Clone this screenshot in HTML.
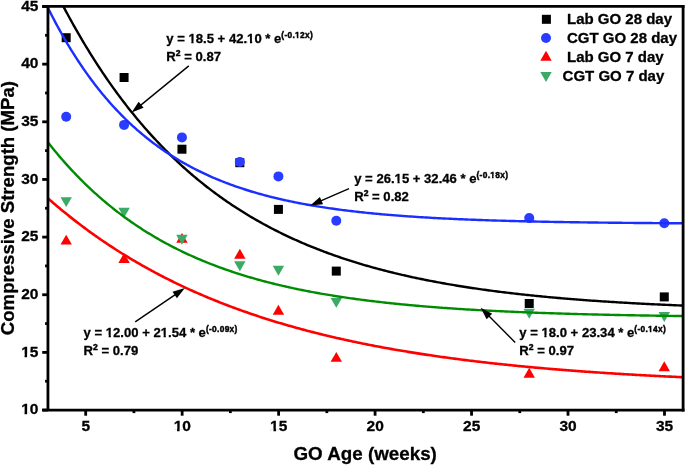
<!DOCTYPE html><html><head><meta charset="utf-8"><style>html,body{margin:0;padding:0;background:#fff;overflow:hidden}svg{display:block}text{font-family:"Liberation Sans",sans-serif;font-weight:bold;stroke:#000;stroke-width:0.3px;filter:grayscale(1)}</style></head><body>
<svg width="685" height="465" viewBox="0 0 685 465">
<defs><clipPath id="pc"><rect x="48" y="6.5" width="634" height="403.5"/></clipPath></defs>
<rect x="61.69" y="33.20" width="9" height="9" fill="#000"/>
<rect x="119.57" y="73.00" width="9" height="9" fill="#000"/>
<rect x="177.45" y="144.70" width="9" height="9" fill="#000"/>
<rect x="235.33" y="158.20" width="9" height="9" fill="#000"/>
<rect x="273.92" y="204.90" width="9" height="9" fill="#000"/>
<rect x="331.79" y="266.60" width="9" height="9" fill="#000"/>
<rect x="524.73" y="299.00" width="9" height="9" fill="#000"/>
<rect x="659.78" y="292.40" width="9" height="9" fill="#000"/>
<circle cx="66.19" cy="116.80" r="5" fill="#2a3cff"/>
<circle cx="124.07" cy="124.90" r="5" fill="#2a3cff"/>
<circle cx="181.95" cy="137.40" r="5" fill="#2a3cff"/>
<circle cx="239.83" cy="162.00" r="5" fill="#2a3cff"/>
<circle cx="278.42" cy="176.40" r="5" fill="#2a3cff"/>
<circle cx="336.29" cy="220.70" r="5" fill="#2a3cff"/>
<circle cx="529.23" cy="218.10" r="5" fill="#2a3cff"/>
<circle cx="664.28" cy="223.20" r="5" fill="#2a3cff"/>
<polygon points="66.19,234.65 71.89,244.55 60.49,244.55" fill="#ff0000"/>
<polygon points="124.07,253.05 129.77,262.95 118.37,262.95" fill="#ff0000"/>
<polygon points="181.95,232.95 187.65,242.85 176.25,242.85" fill="#ff0000"/>
<polygon points="239.83,248.85 245.53,258.75 234.13,258.75" fill="#ff0000"/>
<polygon points="278.42,304.85 284.12,314.75 272.72,314.75" fill="#ff0000"/>
<polygon points="336.29,351.95 341.99,361.85 330.59,361.85" fill="#ff0000"/>
<polygon points="529.23,367.75 534.93,377.65 523.52,377.65" fill="#ff0000"/>
<polygon points="664.28,361.25 669.98,371.15 658.58,371.15" fill="#ff0000"/>
<polygon points="60.49,197.15 71.89,197.15 66.19,207.05" fill="#3aaa66"/>
<polygon points="118.37,207.75 129.77,207.75 124.07,217.65" fill="#3aaa66"/>
<polygon points="176.25,234.85 187.65,234.85 181.95,244.75" fill="#3aaa66"/>
<polygon points="234.13,261.25 245.53,261.25 239.83,271.15" fill="#3aaa66"/>
<polygon points="272.72,265.85 284.12,265.85 278.42,275.75" fill="#3aaa66"/>
<polygon points="330.59,297.95 341.99,297.95 336.29,307.85" fill="#3aaa66"/>
<polygon points="523.52,308.75 534.93,308.75 529.23,318.65" fill="#3aaa66"/>
<polygon points="658.58,312.05 669.98,312.05 664.28,321.95" fill="#3aaa66"/>
<polyline points="46.90,-26.62 48.49,-23.28 50.08,-19.98 51.68,-16.71 53.27,-13.47 54.86,-10.26 56.45,-7.09 58.04,-3.94 59.63,-0.83 61.23,2.25 62.82,5.31 64.41,8.33 66.00,11.32 67.59,14.28 69.18,17.21 70.78,20.12 72.37,22.99 73.96,25.84 75.55,28.66 77.14,31.45 78.73,34.22 80.33,36.95 81.92,39.66 83.51,42.35 85.10,45.00 86.69,47.64 88.28,50.24 89.88,52.82 91.47,55.37 93.06,57.90 94.65,60.40 96.24,62.88 97.83,65.34 99.43,67.77 101.02,70.18 102.61,72.56 104.20,74.92 105.79,77.25 107.38,79.57 108.98,81.86 110.57,84.12 112.16,86.37 113.75,88.59 115.34,90.79 116.93,92.97 118.53,95.13 120.12,97.27 121.71,99.38 123.30,101.48 124.89,103.55 126.48,105.61 128.08,107.64 129.67,109.65 131.26,111.65 132.85,113.62 134.44,115.58 136.03,117.51 137.63,119.43 139.22,121.33 140.81,123.21 142.40,125.07 143.99,126.91 145.58,128.73 147.18,130.54 148.77,132.33 150.36,134.10 151.95,135.85 153.54,137.58 155.13,139.30 156.73,141.00 158.32,142.69 159.91,144.36 161.50,146.01 163.09,147.65 164.68,149.26 166.28,150.87 167.87,152.46 169.46,154.03 171.05,155.59 172.64,157.13 174.23,158.65 175.83,160.16 177.42,161.66 179.01,163.14 180.60,164.61 182.19,166.06 183.78,167.50 185.38,168.92 186.97,170.33 188.56,171.73 190.15,173.11 191.74,174.48 193.33,175.83 194.93,177.18 196.52,178.51 198.11,179.82 199.70,181.12 201.29,182.41 202.88,183.69 204.48,184.95 206.07,186.21 207.66,187.45 209.25,188.67 210.84,189.89 212.43,191.09 214.03,192.28 215.62,193.46 217.21,194.63 218.80,195.79 220.39,196.93 221.98,198.07 223.58,199.19 225.17,200.30 226.76,201.40 228.35,202.49 229.94,203.57 231.53,204.64 233.13,205.70 234.72,206.75 236.31,207.78 237.90,208.81 239.49,209.83 241.08,210.83 242.68,211.83 244.27,212.82 245.86,213.80 247.45,214.76 249.04,215.72 250.63,216.67 252.23,217.61 253.82,218.54 255.41,219.46 257.00,220.37 258.59,221.28 260.18,222.17 261.78,223.06 263.37,223.93 264.96,224.80 266.55,225.66 268.14,226.51 269.73,227.35 271.33,228.19 272.92,229.02 274.51,229.83 276.10,230.64 277.69,231.44 279.28,232.24 280.88,233.03 282.47,233.80 284.06,234.57 285.65,235.34 287.24,236.09 288.83,236.84 290.43,237.58 292.02,238.32 293.61,239.04 295.20,239.76 296.79,240.47 298.38,241.18 299.98,241.88 301.57,242.57 303.16,243.25 304.75,243.93 306.34,244.60 307.93,245.27 309.53,245.92 311.12,246.57 312.71,247.22 314.30,247.86 315.89,248.49 317.48,249.12 319.08,249.74 320.67,250.35 322.26,250.96 323.85,251.56 325.44,252.16 327.03,252.75 328.63,253.33 330.22,253.91 331.81,254.48 333.40,255.05 334.99,255.61 336.58,256.17 338.18,256.72 339.77,257.26 341.36,257.80 342.95,258.33 344.54,258.86 346.13,259.39 347.73,259.91 349.32,260.42 350.91,260.93 352.50,261.43 354.09,261.93 355.68,262.42 357.28,262.91 358.87,263.40 360.46,263.88 362.05,264.35 363.64,264.82 365.23,265.29 366.83,265.75 368.42,266.20 370.01,266.65 371.60,267.10 373.19,267.54 374.78,267.98 376.38,268.42 377.97,268.85 379.56,269.27 381.15,269.69 382.74,270.11 384.33,270.52 385.93,270.93 387.52,271.34 389.11,271.74 390.70,272.14 392.29,272.53 393.88,272.92 395.48,273.30 397.07,273.69 398.66,274.06 400.25,274.44 401.84,274.81 403.43,275.17 405.03,275.54 406.62,275.90 408.21,276.25 409.80,276.61 411.39,276.96 412.98,277.30 414.58,277.64 416.17,277.98 417.76,278.32 419.35,278.65 420.94,278.98 422.53,279.30 424.13,279.63 425.72,279.95 427.31,280.26 428.90,280.58 430.49,280.89 432.08,281.19 433.68,281.50 435.27,281.80 436.86,282.10 438.45,282.39 440.04,282.68 441.63,282.97 443.23,283.26 444.82,283.54 446.41,283.82 448.00,284.10 449.59,284.38 451.18,284.65 452.78,284.92 454.37,285.19 455.96,285.45 457.55,285.71 459.14,285.97 460.73,286.23 462.33,286.48 463.92,286.73 465.51,286.98 467.10,287.23 468.69,287.48 470.28,287.72 471.88,287.96 473.47,288.19 475.06,288.43 476.65,288.66 478.24,288.89 479.83,289.12 481.43,289.35 483.02,289.57 484.61,289.79 486.20,290.01 487.79,290.23 489.38,290.44 490.98,290.66 492.57,290.87 494.16,291.07 495.75,291.28 497.34,291.49 498.93,291.69 500.53,291.89 502.12,292.09 503.71,292.28 505.30,292.48 506.89,292.67 508.49,292.86 510.08,293.05 511.67,293.24 513.26,293.42 514.85,293.61 516.44,293.79 518.04,293.97 519.63,294.15 521.22,294.32 522.81,294.50 524.40,294.67 525.99,294.84 527.59,295.01 529.18,295.18 530.77,295.35 532.36,295.51 533.95,295.67 535.54,295.83 537.14,295.99 538.73,296.15 540.32,296.31 541.91,296.46 543.50,296.62 545.09,296.77 546.69,296.92 548.28,297.07 549.87,297.22 551.46,297.36 553.05,297.51 554.64,297.65 556.24,297.79 557.83,297.93 559.42,298.07 561.01,298.21 562.60,298.34 564.19,298.48 565.79,298.61 567.38,298.75 568.97,298.88 570.56,299.01 572.15,299.14 573.74,299.26 575.34,299.39 576.93,299.51 578.52,299.64 580.11,299.76 581.70,299.88 583.29,300.00 584.89,300.12 586.48,300.24 588.07,300.35 589.66,300.47 591.25,300.58 592.84,300.69 594.44,300.81 596.03,300.92 597.62,301.03 599.21,301.13 600.80,301.24 602.39,301.35 603.99,301.45 605.58,301.56 607.17,301.66 608.76,301.76 610.35,301.87 611.94,301.97 613.54,302.06 615.13,302.16 616.72,302.26 618.31,302.36 619.90,302.45 621.49,302.55 623.09,302.64 624.68,302.73 626.27,302.82 627.86,302.92 629.45,303.01 631.04,303.09 632.64,303.18 634.23,303.27 635.82,303.36 637.41,303.44 639.00,303.53 640.59,303.61 642.19,303.69 643.78,303.78 645.37,303.86 646.96,303.94 648.55,304.02 650.14,304.10 651.74,304.18 653.33,304.25 654.92,304.33 656.51,304.41 658.10,304.48 659.69,304.56 661.29,304.63 662.88,304.70 664.47,304.77 666.06,304.85 667.65,304.92 669.24,304.99 670.84,305.06 672.43,305.13 674.02,305.19 675.61,305.26 677.20,305.33 678.79,305.39 680.39,305.46 681.98,305.52 683.57,305.59" fill="none" stroke="#000000" stroke-width="2.4" clip-path="url(#pc)"/>
<polyline points="46.90,5.74 48.49,8.95 50.08,12.12 51.68,15.24 53.27,18.32 54.86,21.35 56.45,24.33 58.04,27.27 59.63,30.17 61.23,33.02 62.82,35.84 64.41,38.61 66.00,41.34 67.59,44.03 69.18,46.68 70.78,49.29 72.37,51.86 73.96,54.40 75.55,56.90 77.14,59.36 78.73,61.78 80.33,64.17 81.92,66.52 83.51,68.84 85.10,71.13 86.69,73.38 88.28,75.60 89.88,77.78 91.47,79.93 93.06,82.06 94.65,84.15 96.24,86.20 97.83,88.23 99.43,90.23 101.02,92.20 102.61,94.14 104.20,96.05 105.79,97.94 107.38,99.79 108.98,101.62 110.57,103.42 112.16,105.20 113.75,106.95 115.34,108.67 116.93,110.37 118.53,112.04 120.12,113.69 121.71,115.31 123.30,116.91 124.89,118.49 126.48,120.04 128.08,121.57 129.67,123.08 131.26,124.56 132.85,126.03 134.44,127.47 136.03,128.89 137.63,130.29 139.22,131.67 140.81,133.03 142.40,134.37 143.99,135.68 145.58,136.98 147.18,138.26 148.77,139.53 150.36,140.77 151.95,141.99 153.54,143.20 155.13,144.39 156.73,145.56 158.32,146.71 159.91,147.85 161.50,148.97 163.09,150.07 164.68,151.16 166.28,152.23 167.87,153.29 169.46,154.33 171.05,155.35 172.64,156.36 174.23,157.36 175.83,158.34 177.42,159.30 179.01,160.25 180.60,161.19 182.19,162.11 183.78,163.02 185.38,163.92 186.97,164.80 188.56,165.67 190.15,166.53 191.74,167.38 193.33,168.21 194.93,169.03 196.52,169.84 198.11,170.63 199.70,171.42 201.29,172.19 202.88,172.95 204.48,173.70 206.07,174.44 207.66,175.17 209.25,175.89 210.84,176.59 212.43,177.29 214.03,177.98 215.62,178.65 217.21,179.32 218.80,179.97 220.39,180.62 221.98,181.26 223.58,181.88 225.17,182.50 226.76,183.11 228.35,183.71 229.94,184.30 231.53,184.89 233.13,185.46 234.72,186.03 236.31,186.58 237.90,187.13 239.49,187.67 241.08,188.21 242.68,188.73 244.27,189.25 245.86,189.76 247.45,190.26 249.04,190.76 250.63,191.25 252.23,191.73 253.82,192.20 255.41,192.67 257.00,193.13 258.59,193.58 260.18,194.02 261.78,194.46 263.37,194.90 264.96,195.32 266.55,195.74 268.14,196.16 269.73,196.57 271.33,196.97 272.92,197.36 274.51,197.75 276.10,198.14 277.69,198.52 279.28,198.89 280.88,199.26 282.47,199.62 284.06,199.98 285.65,200.33 287.24,200.68 288.83,201.02 290.43,201.35 292.02,201.69 293.61,202.01 295.20,202.33 296.79,202.65 298.38,202.96 299.98,203.27 301.57,203.57 303.16,203.87 304.75,204.17 306.34,204.46 307.93,204.74 309.53,205.02 311.12,205.30 312.71,205.58 314.30,205.84 315.89,206.11 317.48,206.37 319.08,206.63 320.67,206.88 322.26,207.13 323.85,207.38 325.44,207.62 327.03,207.86 328.63,208.10 330.22,208.33 331.81,208.56 333.40,208.78 334.99,209.00 336.58,209.22 338.18,209.44 339.77,209.65 341.36,209.86 342.95,210.07 344.54,210.27 346.13,210.47 347.73,210.67 349.32,210.86 350.91,211.05 352.50,211.24 354.09,211.43 355.68,211.61 357.28,211.79 358.87,211.97 360.46,212.14 362.05,212.31 363.64,212.48 365.23,212.65 366.83,212.82 368.42,212.98 370.01,213.14 371.60,213.30 373.19,213.45 374.78,213.61 376.38,213.76 377.97,213.90 379.56,214.05 381.15,214.20 382.74,214.34 384.33,214.48 385.93,214.62 387.52,214.75 389.11,214.89 390.70,215.02 392.29,215.15 393.88,215.28 395.48,215.40 397.07,215.53 398.66,215.65 400.25,215.77 401.84,215.89 403.43,216.01 405.03,216.12 406.62,216.24 408.21,216.35 409.80,216.46 411.39,216.57 412.98,216.67 414.58,216.78 416.17,216.88 417.76,216.99 419.35,217.09 420.94,217.19 422.53,217.28 424.13,217.38 425.72,217.48 427.31,217.57 428.90,217.66 430.49,217.75 432.08,217.84 433.68,217.93 435.27,218.02 436.86,218.10 438.45,218.19 440.04,218.27 441.63,218.35 443.23,218.44 444.82,218.52 446.41,218.59 448.00,218.67 449.59,218.75 451.18,218.82 452.78,218.90 454.37,218.97 455.96,219.04 457.55,219.11 459.14,219.18 460.73,219.25 462.33,219.32 463.92,219.38 465.51,219.45 467.10,219.51 468.69,219.58 470.28,219.64 471.88,219.70 473.47,219.76 475.06,219.82 476.65,219.88 478.24,219.94 479.83,220.00 481.43,220.06 483.02,220.11 484.61,220.17 486.20,220.22 487.79,220.27 489.38,220.33 490.98,220.38 492.57,220.43 494.16,220.48 495.75,220.53 497.34,220.58 498.93,220.63 500.53,220.67 502.12,220.72 503.71,220.77 505.30,220.81 506.89,220.86 508.49,220.90 510.08,220.94 511.67,220.99 513.26,221.03 514.85,221.07 516.44,221.11 518.04,221.15 519.63,221.19 521.22,221.23 522.81,221.27 524.40,221.31 525.99,221.34 527.59,221.38 529.18,221.42 530.77,221.45 532.36,221.49 533.95,221.52 535.54,221.56 537.14,221.59 538.73,221.62 540.32,221.66 541.91,221.69 543.50,221.72 545.09,221.75 546.69,221.78 548.28,221.81 549.87,221.84 551.46,221.87 553.05,221.90 554.64,221.93 556.24,221.96 557.83,221.99 559.42,222.01 561.01,222.04 562.60,222.07 564.19,222.09 565.79,222.12 567.38,222.14 568.97,222.17 570.56,222.19 572.15,222.22 573.74,222.24 575.34,222.26 576.93,222.29 578.52,222.31 580.11,222.33 581.70,222.36 583.29,222.38 584.89,222.40 586.48,222.42 588.07,222.44 589.66,222.46 591.25,222.48 592.84,222.50 594.44,222.52 596.03,222.54 597.62,222.56 599.21,222.58 600.80,222.60 602.39,222.62 603.99,222.63 605.58,222.65 607.17,222.67 608.76,222.69 610.35,222.70 611.94,222.72 613.54,222.74 615.13,222.75 616.72,222.77 618.31,222.79 619.90,222.80 621.49,222.82 623.09,222.83 624.68,222.85 626.27,222.86 627.86,222.88 629.45,222.89 631.04,222.90 632.64,222.92 634.23,222.93 635.82,222.94 637.41,222.96 639.00,222.97 640.59,222.98 642.19,223.00 643.78,223.01 645.37,223.02 646.96,223.03 648.55,223.04 650.14,223.06 651.74,223.07 653.33,223.08 654.92,223.09 656.51,223.10 658.10,223.11 659.69,223.12 661.29,223.13 662.88,223.14 664.47,223.15 666.06,223.16 667.65,223.17 669.24,223.18 670.84,223.19 672.43,223.20 674.02,223.21 675.61,223.22 677.20,223.23 678.79,223.24 680.39,223.25 681.98,223.26 683.57,223.27" fill="none" stroke="#1a2eff" stroke-width="2.4" clip-path="url(#pc)"/>
<polyline points="46.90,197.40 48.49,198.80 50.08,200.19 51.68,201.58 53.27,202.95 54.86,204.31 56.45,205.66 58.04,207.00 59.63,208.33 61.23,209.66 62.82,210.97 64.41,212.27 66.00,213.56 67.59,214.84 69.18,216.12 70.78,217.38 72.37,218.64 73.96,219.88 75.55,221.12 77.14,222.35 78.73,223.56 80.33,224.77 81.92,225.97 83.51,227.16 85.10,228.35 86.69,229.52 88.28,230.68 89.88,231.84 91.47,232.99 93.06,234.13 94.65,235.26 96.24,236.38 97.83,237.49 99.43,238.60 101.02,239.70 102.61,240.79 104.20,241.87 105.79,242.94 107.38,244.01 108.98,245.07 110.57,246.12 112.16,247.16 113.75,248.19 115.34,249.22 116.93,250.24 118.53,251.25 120.12,252.25 121.71,253.25 123.30,254.24 124.89,255.22 126.48,256.20 128.08,257.16 129.67,258.13 131.26,259.08 132.85,260.02 134.44,260.96 136.03,261.90 137.63,262.82 139.22,263.74 140.81,264.65 142.40,265.56 143.99,266.46 145.58,267.35 147.18,268.23 148.77,269.11 150.36,269.98 151.95,270.85 153.54,271.71 155.13,272.56 156.73,273.41 158.32,274.25 159.91,275.08 161.50,275.91 163.09,276.73 164.68,277.55 166.28,278.36 167.87,279.16 169.46,279.96 171.05,280.75 172.64,281.53 174.23,282.31 175.83,283.09 177.42,283.86 179.01,284.62 180.60,285.38 182.19,286.13 183.78,286.88 185.38,287.62 186.97,288.35 188.56,289.08 190.15,289.81 191.74,290.52 193.33,291.24 194.93,291.95 196.52,292.65 198.11,293.35 199.70,294.04 201.29,294.73 202.88,295.41 204.48,296.09 206.07,296.76 207.66,297.43 209.25,298.09 210.84,298.75 212.43,299.40 214.03,300.05 215.62,300.69 217.21,301.33 218.80,301.96 220.39,302.59 221.98,303.22 223.58,303.84 225.17,304.45 226.76,305.06 228.35,305.67 229.94,306.27 231.53,306.87 233.13,307.46 234.72,308.05 236.31,308.63 237.90,309.21 239.49,309.79 241.08,310.36 242.68,310.92 244.27,311.49 245.86,312.05 247.45,312.60 249.04,313.15 250.63,313.70 252.23,314.24 253.82,314.78 255.41,315.31 257.00,315.84 258.59,316.37 260.18,316.89 261.78,317.41 263.37,317.92 264.96,318.43 266.55,318.94 268.14,319.45 269.73,319.95 271.33,320.44 272.92,320.93 274.51,321.42 276.10,321.91 277.69,322.39 279.28,322.87 280.88,323.34 282.47,323.81 284.06,324.28 285.65,324.74 287.24,325.20 288.83,325.66 290.43,326.11 292.02,326.56 293.61,327.01 295.20,327.46 296.79,327.90 298.38,328.33 299.98,328.77 301.57,329.20 303.16,329.62 304.75,330.05 306.34,330.47 307.93,330.89 309.53,331.30 311.12,331.72 312.71,332.12 314.30,332.53 315.89,332.93 317.48,333.33 319.08,333.73 320.67,334.12 322.26,334.51 323.85,334.90 325.44,335.29 327.03,335.67 328.63,336.05 330.22,336.43 331.81,336.80 333.40,337.17 334.99,337.54 336.58,337.91 338.18,338.27 339.77,338.63 341.36,338.99 342.95,339.34 344.54,339.70 346.13,340.05 347.73,340.39 349.32,340.74 350.91,341.08 352.50,341.42 354.09,341.76 355.68,342.09 357.28,342.42 358.87,342.75 360.46,343.08 362.05,343.40 363.64,343.73 365.23,344.05 366.83,344.37 368.42,344.68 370.01,344.99 371.60,345.30 373.19,345.61 374.78,345.92 376.38,346.22 377.97,346.52 379.56,346.82 381.15,347.12 382.74,347.42 384.33,347.71 385.93,348.00 387.52,348.29 389.11,348.57 390.70,348.86 392.29,349.14 393.88,349.42 395.48,349.70 397.07,349.97 398.66,350.25 400.25,350.52 401.84,350.79 403.43,351.06 405.03,351.32 406.62,351.59 408.21,351.85 409.80,352.11 411.39,352.37 412.98,352.62 414.58,352.88 416.17,353.13 417.76,353.38 419.35,353.63 420.94,353.87 422.53,354.12 424.13,354.36 425.72,354.60 427.31,354.84 428.90,355.08 430.49,355.32 432.08,355.55 433.68,355.78 435.27,356.02 436.86,356.24 438.45,356.47 440.04,356.70 441.63,356.92 443.23,357.14 444.82,357.37 446.41,357.58 448.00,357.80 449.59,358.02 451.18,358.23 452.78,358.44 454.37,358.66 455.96,358.87 457.55,359.07 459.14,359.28 460.73,359.49 462.33,359.69 463.92,359.89 465.51,360.09 467.10,360.29 468.69,360.49 470.28,360.68 471.88,360.88 473.47,361.07 475.06,361.26 476.65,361.45 478.24,361.64 479.83,361.83 481.43,362.02 483.02,362.20 484.61,362.38 486.20,362.57 487.79,362.75 489.38,362.93 490.98,363.10 492.57,363.28 494.16,363.46 495.75,363.63 497.34,363.80 498.93,363.97 500.53,364.14 502.12,364.31 503.71,364.48 505.30,364.65 506.89,364.81 508.49,364.98 510.08,365.14 511.67,365.30 513.26,365.46 514.85,365.62 516.44,365.78 518.04,365.94 519.63,366.09 521.22,366.25 522.81,366.40 524.40,366.55 525.99,366.70 527.59,366.85 529.18,367.00 530.77,367.15 532.36,367.30 533.95,367.44 535.54,367.59 537.14,367.73 538.73,367.87 540.32,368.02 541.91,368.16 543.50,368.29 545.09,368.43 546.69,368.57 548.28,368.71 549.87,368.84 551.46,368.98 553.05,369.11 554.64,369.24 556.24,369.37 557.83,369.50 559.42,369.63 561.01,369.76 562.60,369.89 564.19,370.02 565.79,370.14 567.38,370.27 568.97,370.39 570.56,370.51 572.15,370.63 573.74,370.75 575.34,370.87 576.93,370.99 578.52,371.11 580.11,371.23 581.70,371.35 583.29,371.46 584.89,371.58 586.48,371.69 588.07,371.80 589.66,371.92 591.25,372.03 592.84,372.14 594.44,372.25 596.03,372.36 597.62,372.47 599.21,372.57 600.80,372.68 602.39,372.79 603.99,372.89 605.58,373.00 607.17,373.10 608.76,373.20 610.35,373.30 611.94,373.40 613.54,373.51 615.13,373.60 616.72,373.70 618.31,373.80 619.90,373.90 621.49,374.00 623.09,374.09 624.68,374.19 626.27,374.28 627.86,374.38 629.45,374.47 631.04,374.56 632.64,374.65 634.23,374.75 635.82,374.84 637.41,374.93 639.00,375.02 640.59,375.10 642.19,375.19 643.78,375.28 645.37,375.37 646.96,375.45 648.55,375.54 650.14,375.62 651.74,375.71 653.33,375.79 654.92,375.87 656.51,375.95 658.10,376.04 659.69,376.12 661.29,376.20 662.88,376.28 664.47,376.36 666.06,376.44 667.65,376.51 669.24,376.59 670.84,376.67 672.43,376.74 674.02,376.82 675.61,376.90 677.20,376.97 678.79,377.04 680.39,377.12 681.98,377.19 683.57,377.26" fill="none" stroke="#ff0000" stroke-width="2.6" clip-path="url(#pc)"/>
<polyline points="46.90,140.99 48.49,143.02 50.08,145.03 51.68,147.01 53.27,148.98 54.86,150.91 56.45,152.83 58.04,154.73 59.63,156.60 61.23,158.45 62.82,160.28 64.41,162.09 66.00,163.88 67.59,165.64 69.18,167.39 70.78,169.12 72.37,170.83 73.96,172.51 75.55,174.18 77.14,175.83 78.73,177.46 80.33,179.07 81.92,180.67 83.51,182.24 85.10,183.80 86.69,185.34 88.28,186.86 89.88,188.36 91.47,189.85 93.06,191.32 94.65,192.77 96.24,194.21 97.83,195.63 99.43,197.03 101.02,198.42 102.61,199.79 104.20,201.14 105.79,202.48 107.38,203.81 108.98,205.12 110.57,206.41 112.16,207.69 113.75,208.95 115.34,210.20 116.93,211.44 118.53,212.66 120.12,213.87 121.71,215.06 123.30,216.24 124.89,217.41 126.48,218.56 128.08,219.70 129.67,220.83 131.26,221.94 132.85,223.04 134.44,224.13 136.03,225.21 137.63,226.27 139.22,227.32 140.81,228.36 142.40,229.39 143.99,230.40 145.58,231.41 147.18,232.40 148.77,233.38 150.36,234.35 151.95,235.31 153.54,236.26 155.13,237.19 156.73,238.12 158.32,239.03 159.91,239.94 161.50,240.83 163.09,241.72 164.68,242.59 166.28,243.45 167.87,244.31 169.46,245.15 171.05,245.99 172.64,246.81 174.23,247.63 175.83,248.43 177.42,249.23 179.01,250.02 180.60,250.79 182.19,251.56 183.78,252.33 185.38,253.08 186.97,253.82 188.56,254.56 190.15,255.28 191.74,256.00 193.33,256.71 194.93,257.41 196.52,258.10 198.11,258.79 199.70,259.47 201.29,260.14 202.88,260.80 204.48,261.46 206.07,262.10 207.66,262.74 209.25,263.37 210.84,264.00 212.43,264.62 214.03,265.23 215.62,265.83 217.21,266.43 218.80,267.02 220.39,267.60 221.98,268.18 223.58,268.75 225.17,269.31 226.76,269.87 228.35,270.42 229.94,270.96 231.53,271.50 233.13,272.03 234.72,272.56 236.31,273.08 237.90,273.59 239.49,274.10 241.08,274.60 242.68,275.10 244.27,275.59 245.86,276.07 247.45,276.55 249.04,277.03 250.63,277.50 252.23,277.96 253.82,278.42 255.41,278.87 257.00,279.32 258.59,279.76 260.18,280.19 261.78,280.63 263.37,281.05 264.96,281.48 266.55,281.89 268.14,282.31 269.73,282.71 271.33,283.12 272.92,283.51 274.51,283.91 276.10,284.30 277.69,284.68 279.28,285.06 280.88,285.44 282.47,285.81 284.06,286.18 285.65,286.54 287.24,286.90 288.83,287.26 290.43,287.61 292.02,287.95 293.61,288.30 295.20,288.63 296.79,288.97 298.38,289.30 299.98,289.63 301.57,289.95 303.16,290.27 304.75,290.59 306.34,290.90 307.93,291.21 309.53,291.52 311.12,291.82 312.71,292.12 314.30,292.41 315.89,292.70 317.48,292.99 319.08,293.28 320.67,293.56 322.26,293.84 323.85,294.11 325.44,294.38 327.03,294.65 328.63,294.92 330.22,295.18 331.81,295.44 333.40,295.70 334.99,295.95 336.58,296.20 338.18,296.45 339.77,296.70 341.36,296.94 342.95,297.18 344.54,297.42 346.13,297.65 347.73,297.88 349.32,298.11 350.91,298.34 352.50,298.56 354.09,298.78 355.68,299.00 357.28,299.22 358.87,299.43 360.46,299.64 362.05,299.85 363.64,300.05 365.23,300.26 366.83,300.46 368.42,300.66 370.01,300.86 371.60,301.05 373.19,301.24 374.78,301.43 376.38,301.62 377.97,301.81 379.56,301.99 381.15,302.17 382.74,302.35 384.33,302.53 385.93,302.71 387.52,302.88 389.11,303.05 390.70,303.22 392.29,303.39 393.88,303.55 395.48,303.72 397.07,303.88 398.66,304.04 400.25,304.20 401.84,304.35 403.43,304.51 405.03,304.66 406.62,304.81 408.21,304.96 409.80,305.11 411.39,305.25 412.98,305.40 414.58,305.54 416.17,305.68 417.76,305.82 419.35,305.96 420.94,306.09 422.53,306.23 424.13,306.36 425.72,306.49 427.31,306.62 428.90,306.75 430.49,306.88 432.08,307.00 433.68,307.13 435.27,307.25 436.86,307.37 438.45,307.49 440.04,307.61 441.63,307.73 443.23,307.84 444.82,307.96 446.41,308.07 448.00,308.18 449.59,308.29 451.18,308.40 452.78,308.51 454.37,308.62 455.96,308.72 457.55,308.83 459.14,308.93 460.73,309.03 462.33,309.13 463.92,309.23 465.51,309.33 467.10,309.43 468.69,309.53 470.28,309.62 471.88,309.71 473.47,309.81 475.06,309.90 476.65,309.99 478.24,310.08 479.83,310.17 481.43,310.26 483.02,310.34 484.61,310.43 486.20,310.51 487.79,310.60 489.38,310.68 490.98,310.76 492.57,310.84 494.16,310.92 495.75,311.00 497.34,311.08 498.93,311.16 500.53,311.23 502.12,311.31 503.71,311.38 505.30,311.46 506.89,311.53 508.49,311.60 510.08,311.67 511.67,311.75 513.26,311.81 514.85,311.88 516.44,311.95 518.04,312.02 519.63,312.09 521.22,312.15 522.81,312.22 524.40,312.28 525.99,312.34 527.59,312.41 529.18,312.47 530.77,312.53 532.36,312.59 533.95,312.65 535.54,312.71 537.14,312.77 538.73,312.83 540.32,312.88 541.91,312.94 543.50,313.00 545.09,313.05 546.69,313.11 548.28,313.16 549.87,313.21 551.46,313.27 553.05,313.32 554.64,313.37 556.24,313.42 557.83,313.47 559.42,313.52 561.01,313.57 562.60,313.62 564.19,313.67 565.79,313.71 567.38,313.76 568.97,313.81 570.56,313.85 572.15,313.90 573.74,313.94 575.34,313.99 576.93,314.03 578.52,314.08 580.11,314.12 581.70,314.16 583.29,314.20 584.89,314.24 586.48,314.29 588.07,314.33 589.66,314.37 591.25,314.41 592.84,314.44 594.44,314.48 596.03,314.52 597.62,314.56 599.21,314.60 600.80,314.63 602.39,314.67 603.99,314.71 605.58,314.74 607.17,314.78 608.76,314.81 610.35,314.85 611.94,314.88 613.54,314.91 615.13,314.95 616.72,314.98 618.31,315.01 619.90,315.04 621.49,315.08 623.09,315.11 624.68,315.14 626.27,315.17 627.86,315.20 629.45,315.23 631.04,315.26 632.64,315.29 634.23,315.32 635.82,315.35 637.41,315.37 639.00,315.40 640.59,315.43 642.19,315.46 643.78,315.48 645.37,315.51 646.96,315.54 648.55,315.56 650.14,315.59 651.74,315.62 653.33,315.64 654.92,315.67 656.51,315.69 658.10,315.71 659.69,315.74 661.29,315.76 662.88,315.79 664.47,315.81 666.06,315.83 667.65,315.85 669.24,315.88 670.84,315.90 672.43,315.92 674.02,315.94 675.61,315.96 677.20,315.99 678.79,316.01 680.39,316.03 681.98,316.05 683.57,316.07" fill="none" stroke="#008c00" stroke-width="2.4" clip-path="url(#pc)"/>
<g stroke="#000" stroke-width="2.8" fill="none" stroke-linecap="butt">
<line x1="42.2" y1="6.45" x2="684.5" y2="6.45"/>
<line x1="47.95" y1="5.050000000000001" x2="47.95" y2="410.05"/>
<line x1="42.2" y1="410.05" x2="684.5" y2="410.05"/>
<line x1="683.1" y1="5.050000000000001" x2="683.1" y2="411.45"/>
<line x1="42.2" y1="410.05" x2="47.95" y2="410.05"/>
<line x1="42.2" y1="352.40" x2="47.95" y2="352.40"/>
<line x1="42.2" y1="294.75" x2="47.95" y2="294.75"/>
<line x1="42.2" y1="237.10" x2="47.95" y2="237.10"/>
<line x1="42.2" y1="179.45" x2="47.95" y2="179.45"/>
<line x1="42.2" y1="121.80" x2="47.95" y2="121.80"/>
<line x1="42.2" y1="64.15" x2="47.95" y2="64.15"/>
<line x1="42.2" y1="6.50" x2="47.95" y2="6.50"/>
<line x1="45.1" y1="381.22" x2="47.95" y2="381.22"/>
<line x1="45.1" y1="323.57" x2="47.95" y2="323.57"/>
<line x1="45.1" y1="265.93" x2="47.95" y2="265.93"/>
<line x1="45.1" y1="208.27" x2="47.95" y2="208.27"/>
<line x1="45.1" y1="150.62" x2="47.95" y2="150.62"/>
<line x1="45.1" y1="92.97" x2="47.95" y2="92.97"/>
<line x1="45.1" y1="35.33" x2="47.95" y2="35.33"/>
<line x1="85.69" y1="410.05" x2="85.69" y2="415.7"/>
<line x1="182.15" y1="410.05" x2="182.15" y2="415.7"/>
<line x1="278.62" y1="410.05" x2="278.62" y2="415.7"/>
<line x1="375.08" y1="410.05" x2="375.08" y2="415.7"/>
<line x1="471.55" y1="410.05" x2="471.55" y2="415.7"/>
<line x1="568.01" y1="410.05" x2="568.01" y2="415.7"/>
<line x1="664.48" y1="410.05" x2="664.48" y2="415.7"/>
<line x1="133.92" y1="410.05" x2="133.92" y2="413.1"/>
<line x1="230.38" y1="410.05" x2="230.38" y2="413.1"/>
<line x1="326.85" y1="410.05" x2="326.85" y2="413.1"/>
<line x1="423.31" y1="410.05" x2="423.31" y2="413.1"/>
<line x1="519.78" y1="410.05" x2="519.78" y2="413.1"/>
<line x1="616.24" y1="410.05" x2="616.24" y2="413.1"/>
</g>
<text x="38.4" y="414.25" font-size="15.5" text-anchor="end">10</text>
<text x="38.4" y="356.60" font-size="15.5" text-anchor="end">15</text>
<text x="38.4" y="298.95" font-size="15.5" text-anchor="end">20</text>
<text x="38.4" y="241.30" font-size="15.5" text-anchor="end">25</text>
<text x="38.4" y="183.65" font-size="15.5" text-anchor="end">30</text>
<text x="38.4" y="126.00" font-size="15.5" text-anchor="end">35</text>
<text x="38.4" y="68.35" font-size="15.5" text-anchor="end">40</text>
<text x="38.4" y="10.70" font-size="15.5" text-anchor="end">45</text>
<text x="85.79" y="431.3" font-size="15.5" text-anchor="middle">5</text>
<text x="182.25" y="431.3" font-size="15.5" text-anchor="middle">10</text>
<text x="278.72" y="431.3" font-size="15.5" text-anchor="middle">15</text>
<text x="375.18" y="431.3" font-size="15.5" text-anchor="middle">20</text>
<text x="471.65" y="431.3" font-size="15.5" text-anchor="middle">25</text>
<text x="568.11" y="431.3" font-size="15.5" text-anchor="middle">30</text>
<text x="664.58" y="431.3" font-size="15.5" text-anchor="middle">35</text>
<text x="365.2" y="460.2" font-size="18.8" text-anchor="middle">GO Age (weeks)</text>
<text transform="translate(14.4,208.1) rotate(-90)" x="0" y="0" font-size="18.6" text-anchor="middle">Compressive Strength (MPa)</text>
<rect x="541.90" y="14.80" width="9" height="9" fill="#000"/>
<circle cx="546.00" cy="38.00" r="5" fill="#2a3cff"/>
<polygon points="546.00,50.75 551.70,60.65 540.30,60.65" fill="#ff0000"/>
<polygon points="540.30,72.05 551.70,72.05 546.00,81.95" fill="#3aaa66"/>
<g font-size="15">
<text x="567" y="23.8">Lab GO 28 day</text>
<text x="567" y="42.6">CGT GO 28 day</text>
<text x="567" y="61.6">Lab GO 7 day</text>
<text x="562.6" y="80.5">CGT GO 7 day</text>
</g>
<text x="166.3" y="42.8" font-size="13.1">y = 18.5 + 42.10 * e<tspan font-size="8.4" dy="-5.0" letter-spacing="0.3" stroke-width="0.45">(-0.12x)</tspan></text><text x="166.3" y="60.699999999999996" font-size="13.1">R<tspan font-size="8.6" dy="-5.0" stroke-width="0.45">2</tspan><tspan dy="5.0"> = 0.87</tspan></text>
<text x="354.2" y="182.6" font-size="13.1">y = 26.15 + 32.46 * e<tspan font-size="8.4" dy="-5.0" letter-spacing="0.3" stroke-width="0.45">(-0.18x)</tspan></text><text x="354.2" y="200.5" font-size="13.1">R<tspan font-size="8.6" dy="-5.0" stroke-width="0.45">2</tspan><tspan dy="5.0"> = 0.82</tspan></text>
<text x="83.6" y="336.8" font-size="13.1">y = 12.00 + 21.54 * e<tspan font-size="8.4" dy="-5.0" letter-spacing="0.3" stroke-width="0.45">(-0.09x)</tspan></text><text x="83.6" y="354.7" font-size="13.1">R<tspan font-size="8.6" dy="-5.0" stroke-width="0.45">2</tspan><tspan dy="5.0"> = 0.79</tspan></text>
<text x="519.3" y="336.8" font-size="13.1">y = 18.0 + 23.34 * e<tspan font-size="8.4" dy="-5.0" letter-spacing="0.3" stroke-width="0.45">(-0.14x)</tspan></text><text x="519.3" y="354.7" font-size="13.1">R<tspan font-size="8.6" dy="-5.0" stroke-width="0.45">2</tspan><tspan dy="5.0"> = 0.97</tspan></text>
<line x1="188.8" y1="65.9" x2="139.58" y2="106.09" stroke="#000" stroke-width="1.4"/><polygon points="131.6,112.6 138.66,101.80 143.59,107.84" fill="#000"/>
<line x1="349" y1="188.6" x2="319.63" y2="201.47" stroke="#000" stroke-width="1.4"/><polygon points="310.2,205.6 319.90,197.09 323.03,204.24" fill="#000"/>
<line x1="135.2" y1="321.8" x2="176.38" y2="293.88" stroke="#000" stroke-width="1.4"/><polygon points="184.9,288.1 176.91,298.23 172.53,291.78" fill="#000"/>
<line x1="515.2" y1="342.5" x2="487.96" y2="315.10" stroke="#000" stroke-width="1.4"/><polygon points="480.7,307.8 492.14,313.77 486.61,319.27" fill="#000"/>
<g><rect x="21.53" y="412.07" width="3.02" height="3.48" fill="#fff"/><rect x="27.11" y="412.07" width="2.82" height="3.48" fill="#fff"/><rect x="21.53" y="354.42" width="3.02" height="3.48" fill="#fff"/><rect x="27.11" y="354.42" width="2.82" height="3.48" fill="#fff"/><rect x="174.00" y="429.12" width="3.02" height="3.48" fill="#fff"/><rect x="179.59" y="429.12" width="2.82" height="3.48" fill="#fff"/><rect x="270.47" y="429.12" width="3.02" height="3.48" fill="#fff"/><rect x="276.06" y="429.12" width="2.82" height="3.48" fill="#fff"/><rect x="188.73" y="40.86" width="2.61" height="3.24" fill="#fff"/><rect x="193.58" y="40.86" width="2.45" height="3.24" fill="#fff"/><rect x="247.34" y="40.86" width="2.61" height="3.24" fill="#fff"/><rect x="252.19" y="40.86" width="2.45" height="3.24" fill="#fff"/><rect x="295.01" y="36.34" width="1.81" height="2.76" fill="#fff"/><rect x="298.41" y="36.34" width="1.70" height="2.76" fill="#fff"/><rect x="394.83" y="180.66" width="2.61" height="3.24" fill="#fff"/><rect x="399.68" y="180.66" width="2.45" height="3.24" fill="#fff"/><rect x="490.21" y="176.14" width="1.81" height="2.76" fill="#fff"/><rect x="493.61" y="176.14" width="1.70" height="2.76" fill="#fff"/><rect x="106.03" y="334.86" width="2.61" height="3.24" fill="#fff"/><rect x="110.88" y="334.86" width="2.45" height="3.24" fill="#fff"/><rect x="161.00" y="334.86" width="2.61" height="3.24" fill="#fff"/><rect x="165.85" y="334.86" width="2.45" height="3.24" fill="#fff"/><rect x="541.73" y="334.86" width="2.61" height="3.24" fill="#fff"/><rect x="546.58" y="334.86" width="2.45" height="3.24" fill="#fff"/><rect x="648.01" y="330.34" width="1.81" height="2.76" fill="#fff"/><rect x="651.41" y="330.34" width="1.70" height="2.76" fill="#fff"/></g>
</svg></body></html>
